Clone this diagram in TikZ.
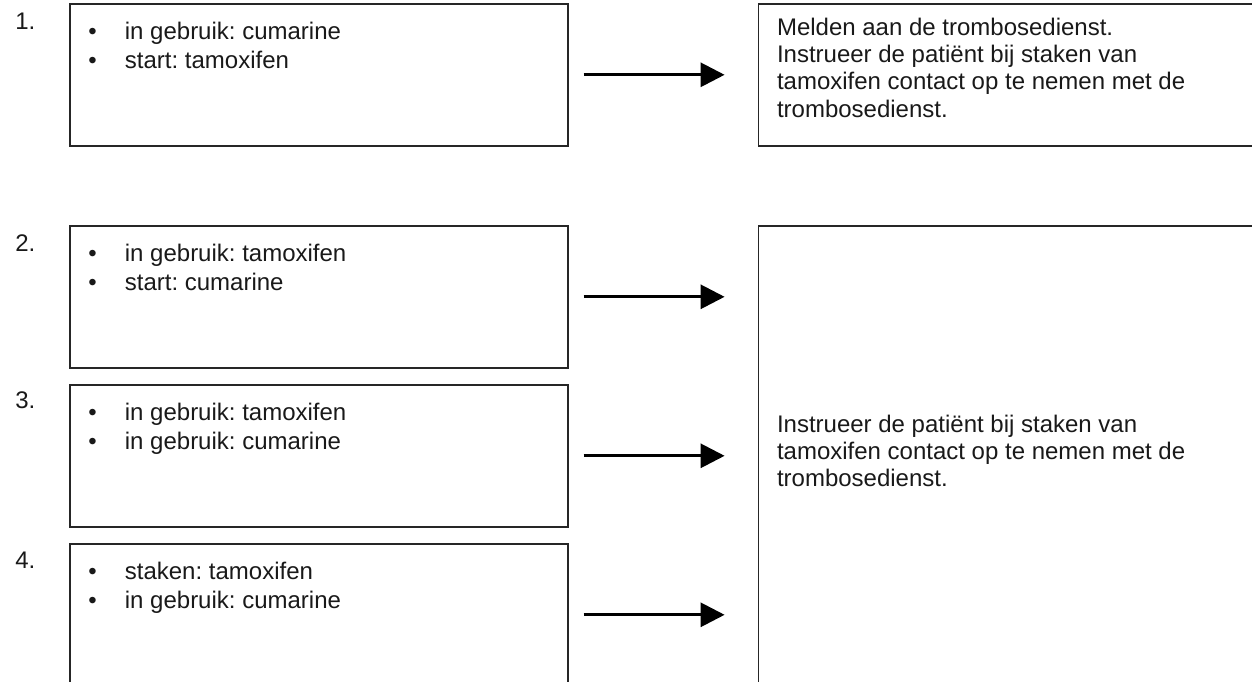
\documentclass[tikz,border=0pt]{standalone}
\usepackage{fontspec}
\setmainfont{Liberation Sans}
\usetikzlibrary{positioning,arrows.meta}
\frenchspacing
\newcommand{\bitem}[1]{\makebox[18.25pt][l]{\textbullet}#1}

\begin{document}
\begin{tikzpicture}[x=0.5pt, y=-0.5pt, node distance=39.2pt, font=\fontsize{12}{14.8}\selectfont]
    % Define styles
    \tikzstyle{case} = [rectangle, minimum width=249pt, minimum height=71pt, draw=black!85, line width=0.8pt, inner sep=0pt]
    \tikzstyle{advice} = [rectangle, minimum width=260pt, draw=black!85, line width=0.8pt, inner sep=0pt]
    \tikzstyle{caselist} = [anchor=north west, align=left, inner sep=0pt, text=black!90, font=\fontsize{12}{14.8}\selectfont]
    \tikzstyle{advicetext} = [anchor=north west, align=left, inner sep=0pt, text=black!90, font=\fontsize{12}{13.6}\selectfont]
    \tikzstyle{number} = [anchor=base west, inner sep=0pt, text=black!90]
    \tikzstyle{arrow} = [line width=1.5pt, -{Triangle[length=12pt, width=12pt]}, shorten <=7.5pt, shorten >=16.5pt]

    \useasboundingbox (0,0) rectangle (1252,681);
    \clip (0,0) rectangle (1252,681);

    % Nodes
    \node (case1) [case, anchor=north west] at (69,3) {};
    \node (case2) [case, below=of case1] {};
    \node (case3) [case, below=7.7pt of case2] {};
    \node (case4) [case, below=7.7pt of case3] {};

    \node (advice1) [advice, minimum height=71pt, right=94.5pt of case1] {};
    \node (advice2) [advice, minimum height=240pt, below=of advice1.south west, anchor=north west] {};

    % Numbers
    \node (num1) [number, xshift=-27pt, yshift=-13pt] at (case1.north west) {1.};
    \node (num2) [number, xshift=-27pt, yshift=-13pt] at (case2.north west) {2.};
    \node (num3) [number, xshift=-27pt, yshift=-12pt] at (case3.north west) {3.};
    \node (num4) [number, xshift=-27pt, yshift=-12.5pt] at (case4.north west) {4.};

    % Texts (first line starts with a strut, so the top sits 0.7 baselineskip above it)
    \node (case1_text) [caselist, xshift=9.5pt, yshift=-7.6pt] at (case1.north west) {\strut\bitem{in gebruik: cumarine}\\\bitem{start: tamoxifen}};
    \node (case2_text) [caselist, xshift=9.5pt, yshift=-7.6pt] at (case2.north west) {\strut\bitem{in gebruik: tamoxifen}\\\bitem{start: cumarine}};
    \node (case3_text) [caselist, xshift=9.5pt, yshift=-7.6pt] at (case3.north west) {\strut\bitem{in gebruik: tamoxifen}\\\bitem{in gebruik: cumarine}};
    \node (case4_text) [caselist, xshift=9.5pt, yshift=-7.6pt] at (case4.north west) {\strut\bitem{staken: tamoxifen}\\\bitem{in gebruik: cumarine}};

    \node (advice1_text) [advicetext, xshift=9.5pt, yshift=-6.5pt] at (advice1.north west) {\strut Melden aan de trombosedienst.\\Instrueer de patiënt bij staken van\\tamoxifen contact op te nemen met de\\trombosedienst.};
    \node (advice2_text) [advicetext, xshift=9.5pt, yshift=-94pt] at (advice2.north west) {\strut Instrueer de patiënt bij staken van\\tamoxifen contact op te nemen met de\\trombosedienst.};

    % Arrows
    \draw [arrow] (case1) -- (advice1);
    \draw [arrow] (case2.east) -- (case2.east -| advice2.west);
    \draw [arrow] (case3.east) -- (case3.east -| advice2.west);
    \draw [arrow] (case4.east) -- (case4.east -| advice2.west);
\end{tikzpicture}
\end{document}
